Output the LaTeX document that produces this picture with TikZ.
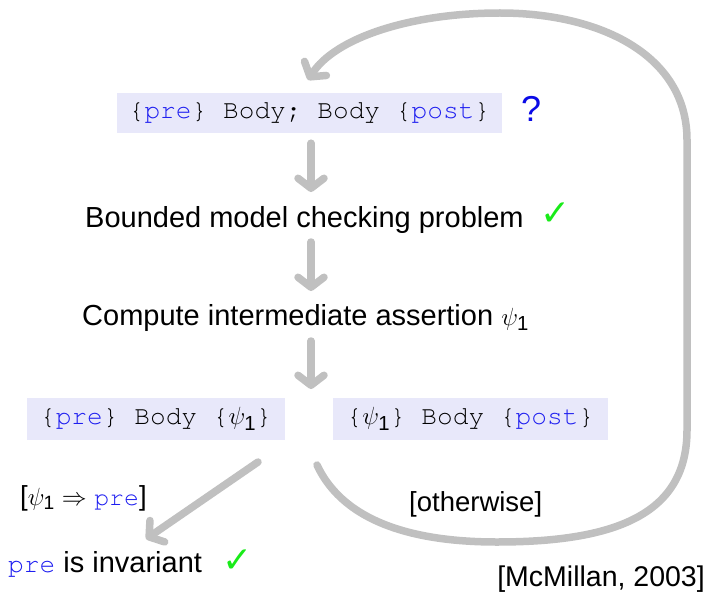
\documentclass[tikz,border=0pt]{standalone}
\usepackage{amsmath,amssymb}
\usepackage{fontspec}
\setmainfont{Liberation Sans}
\setmonofont{texgyrecursor-regular.otf}[Scale=0.903]
\newfontfamily\symfont{DejaVu Sans}
\usetikzlibrary{arrows.meta}

\definecolor{flowgray}{RGB}{192,192,192}
\definecolor{boxfill}{RGB}{232,232,250}
\definecolor{kwblue}{RGB}{30,30,240}
\definecolor{okgreen}{RGB}{25,235,25}
\definecolor{qblue}{RGB}{10,10,230}

\newcommand\kw[1]{\textcolor{kwblue}{\texttt{#1}}}

\tikzset{
  txt/.style={inner sep=0pt, font=\fontsize{29}{34}\selectfont},
  lbl/.style={inner sep=0pt, font=\fontsize{27.5}{32}\selectfont},
  tickmark/.style={inner sep=0pt, text=okgreen, font=\symfont\fontsize{36}{40}\selectfont},
  hoare/.style={fill=boxfill, inner sep=0pt, font=\fontsize{29}{34}\selectfont},
  flow/.style={draw=flowgray, line width=7.5pt, line cap=round,
    -{Straight Barb[round,length=10pt,width=26pt]}},
}

\begin{document}
\begin{tikzpicture}[x=1pt,y=-1pt]
\useasboundingbox (0,0) rectangle (711,596);

% Hoare triple and its derived problems
\node[hoare, minimum width=385pt, minimum height=40pt] (top) at (309.5,113)
  {\texttt{\{}\kw{pre}\texttt{\} Body; Body \{}\kw{post}\texttt{\}}};
\node[txt, anchor=base west, text=qblue, font=\fontsize{36}{40}\selectfont] (q) at (521,122) {?};

\node[txt, anchor=base west] (bmc) at (85,227) {Bounded model checking problem};
\node[tickmark, anchor=base west] (chk1) at (540,225) {✓};

\node[txt, anchor=base west] (comp) at (82,325) {Compute intermediate assertion $\psi_{\text{1}}$};

\node[hoare, minimum width=258pt, minimum height=42pt] (left) at (156,419)
  {\texttt{\{}\kw{pre}\texttt{\} Body \{}$\psi_{\text{1}}$\texttt{\}}};
\node[hoare, minimum width=275pt, minimum height=42pt] (right) at (470.5,419)
  {\texttt{\{}$\psi_{\text{1}}$\texttt{\} Body \{}\kw{post}\texttt{\}}};

\node[lbl, anchor=base west] (impl) at (20,505) {[$\psi_{\text{1}}\Rightarrow$ \kw{pre}]};
\node[txt, anchor=base west] (inv) at (8,572) {\kw{pre} is invariant};
\node[tickmark, anchor=base west] (chk2) at (222,572) {✓};

\node[lbl, anchor=base west] (other) at (409,511) {[otherwise]};
\node[lbl, anchor=base east, font=\fontsize{28.5}{32}\selectfont] (cite) at (705,586) {[McMillan, 2003]};

% split points below the two sub-problems
\coordinate (dstart) at (258,462);
\coordinate (lstart) at (317,465);
\coordinate (dend) at (146,539);
\coordinate (lend) at (308,80);

% vertical flow
\draw[flow] (top.south -| 311,0) ++(0,10) -- (311,192);
\draw[flow] (311,242) -- (311,291);
\draw[flow] (311,341) -- (311,389);

% success branch
\draw[flow] (dstart) -- (dend);

% loop back to the top
\draw[flow] (lstart) .. controls (345,525) and (420,542) .. (497,542)
  .. controls (620,542) and (687,512) .. (687,430)
  -- (687,140)
  .. controls (687,55) and (600,13) .. (500,13)
  .. controls (410,13) and (335,38) .. (lend);
\end{tikzpicture}
\end{document}
